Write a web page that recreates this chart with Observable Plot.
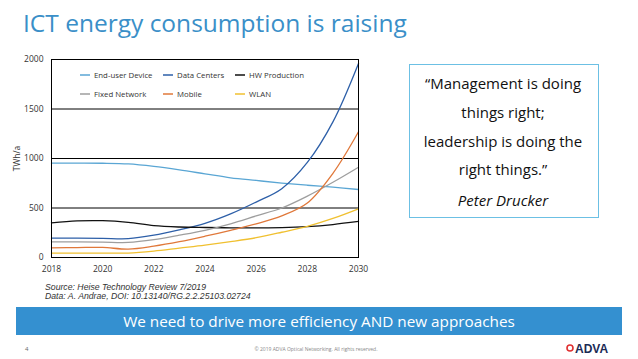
<!DOCTYPE html>
<html>
<head>
<meta charset="utf-8">
<script src="https://cdn.jsdelivr.net/npm/d3@7"></script>
<script src="https://cdn.jsdelivr.net/npm/@observablehq/plot@0.6"></script>
<style>
  html, body { margin:0; padding:0; background:#fff; }
  body { width:638px; height:359px; position:relative; overflow:hidden; font-family:"Open Sans", sans-serif; }
  #bg { position:absolute; left:0; top:0; }
  #chart { position:absolute; left:0; top:40px; }
  #legend { position:absolute; left:0; top:0; pointer-events:none; }
</style>
</head>
<body>
<svg id="bg" width="638" height="359" xmlns="http://www.w3.org/2000/svg">
  <text x="23" y="32" font-family="Open Sans" font-size="24.5" fill="#3a8fc8">ICT energy consumption is raising</text>
  <rect x="409.5" y="64.5" width="189" height="153" fill="#fff" stroke="#6cc0e4" stroke-width="1"/>
  <g font-family="Open Sans" font-size="15" fill="#111" text-anchor="middle">
    <text x="503" y="89">“Management is doing</text>
    <text x="503" y="118">things right;</text>
    <text x="503" y="147">leadership is doing the</text>
    <text x="503" y="175">right things.”</text>
    <text x="503" y="206" font-style="italic">Peter Drucker</text>
  </g>
  <g font-family="Liberation Sans" font-size="8.7" font-style="italic" fill="#333">
    <text x="45" y="290">Source: Heise Technology Review 7/2019</text>
    <text x="45" y="299">Data: A. Andrae, DOI: 10.13140/RG.2.2.25103.02724</text>
  </g>
  <rect x="16" y="307" width="606" height="28" fill="#3490d0"/>
  <text x="319" y="327" font-family="Open Sans" font-size="15.3" fill="#fff" text-anchor="middle">We need to drive more efficiency AND new approaches</text>
  <text x="25" y="351" font-family="Open Sans" font-size="6" fill="#666">4</text>
  <text x="316" y="351" font-family="Open Sans" font-size="5" fill="#888" text-anchor="middle">© 2019 ADVA Optical Networking. All rights reserved.</text>
  <circle cx="570" cy="348" r="3" fill="none" stroke="#e03030" stroke-width="1.6"/>
  <text x="575" y="352.5" font-family="Liberation Sans" font-weight="bold" font-size="12" fill="#1b2a55">ADVA</text>
</svg>
<div id="chart"></div>
<svg id="legend" width="638" height="359" xmlns="http://www.w3.org/2000/svg"></svg>
<script>
// ---- data ----
const years = [2018, 2019, 2020, 2021, 2022, 2023, 2024, 2025, 2026, 2027, 2028, 2029, 2030];
const seriesNames = ["End-user Device", "Data Centers", "HW Production", "Fixed Network", "Mobile", "WLAN"];
const seriesColors = ["#5aa6d4", "#2d5fa8", "#111111", "#9e9e9e", "#e0783a", "#f0c030"];
const endUserDevice = [953, 953, 952, 945, 920, 885, 845, 805, 778, 752, 730, 710, 687];
const dataCenters   = [195, 195, 193, 190, 225, 280, 345, 440, 560, 695, 960, 1370, 1960];
const hwProduction  = [350, 370, 372, 355, 322, 308, 303, 300, 300, 302, 312, 333, 364];
const fixedNetwork  = [158, 157, 155, 152, 180, 225, 275, 340, 420, 500, 620, 760, 912];
const mobile        = [98, 100, 102, 85, 115, 160, 215, 275, 340, 420, 550, 850, 1270];
const wlan          = [44, 44, 44, 45, 65, 95, 125, 160, 200, 255, 315, 395, 492];
const yTicks = [0, 500, 1000, 1500, 2000];
const xTicks = [2018, 2020, 2022, 2024, 2026, 2028, 2030];
const gridValues = [500, 1000, 1500];
const yLabel = "TWh/a";

const seriesValues = [endUserDevice, dataCenters, hwProduction, fixedNetwork, mobile, wlan];
const rows = seriesNames.flatMap((s, i) => years.map((yr, j) => ({year: yr, value: seriesValues[i][j], series: s})));

const chart = Plot.plot({
  width: 370,
  height: 237,
  marginLeft: 51,
  marginRight: 12,
  marginTop: 19,
  marginBottom: 20,
  style: {fontFamily: "Open Sans", fontSize: "8.5px", color: "#333", background: "transparent", overflow: "visible"},
  x: {domain: [2018, 2030], ticks: xTicks, tickFormat: d => String(d), tickSize: 0, tickPadding: 8, label: null},
  y: {domain: [0, 2000], ticks: yTicks, tickFormat: d => String(d), tickSize: 0, tickPadding: 8, label: yLabel, labelAnchor: "center", labelOffset: 38, labelArrow: "none"},
  color: {domain: seriesNames, range: seriesColors},
  marks: [
    Plot.ruleY(gridValues, {stroke: "#000", strokeWidth: 1}),
    Plot.line(rows, {x: "year", y: "value", z: "series", stroke: "series", curve: "catmull-rom", strokeWidth: 1.3}),
    Plot.frame({stroke: "#000", strokeWidth: 1})
  ]
});
document.getElementById("chart").appendChild(chart);

// legend (inside plot area, two rows of three)
const lg = d3.select("#legend");
const colX = [80, 163, 235];
const rowY = [75, 94];
seriesNames.forEach((s, i) => {
  const cx = colX[i % 3], cy = rowY[Math.floor(i / 3)];
  lg.append("line").attr("x1", cx).attr("x2", cx + 10).attr("y1", cy).attr("y2", cy)
    .attr("stroke", seriesColors[i]).attr("stroke-width", 1.5);
  lg.append("text").attr("x", cx + 14).attr("y", cy + 3)
    .attr("font-family", "Open Sans").attr("font-size", 7.8).attr("fill", "#333").text(s);
});
</script>
</body>
</html>
